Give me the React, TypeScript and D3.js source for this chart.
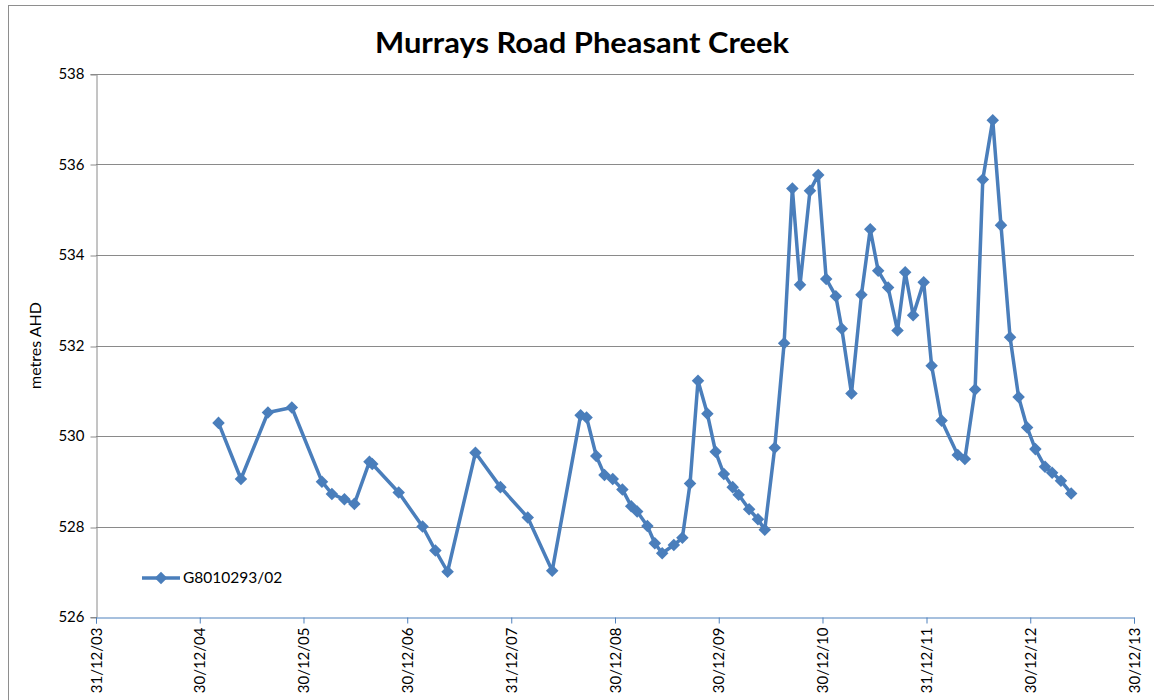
import React, { useEffect, useRef } from 'react';
import * as d3 from 'd3';

const title = 'Murrays Road Pheasant Creek';
const seriesName = 'G8010293/02';
const yLabel = 'metres AHD';

const dates = [
  '2005-03-06', '2005-05-24', '2005-08-27', '2005-11-19', '2006-03-05', '2006-04-09',
  '2006-05-23', '2006-06-27', '2006-08-19', '2006-08-29', '2006-11-30', '2007-02-22',
  '2007-04-08', '2007-05-21', '2007-08-27', '2007-11-23', '2008-02-27', '2008-05-23',
  '2008-08-31', '2008-09-21', '2008-10-25', '2008-11-23', '2008-12-22', '2009-01-25',
  '2009-02-25', '2009-03-18', '2009-04-23', '2009-05-19', '2009-06-14', '2009-07-25',
  '2009-08-24', '2009-09-20', '2009-10-18', '2009-11-20', '2009-12-19', '2010-01-17',
  '2010-02-17', '2010-03-10', '2010-04-16', '2010-05-17', '2010-06-10', '2010-07-15',
  '2010-08-17', '2010-09-15', '2010-10-12', '2010-11-16', '2010-12-15', '2011-01-12',
  '2011-02-15', '2011-03-08', '2011-04-11', '2011-05-16', '2011-06-16', '2011-07-14',
  '2011-08-18', '2011-09-20', '2011-10-17', '2011-11-14', '2011-12-21', '2012-01-18',
  '2012-02-22', '2012-04-19', '2012-05-14', '2012-06-19', '2012-07-16', '2012-08-20',
  '2012-09-18', '2012-10-20', '2012-11-19', '2012-12-19', '2013-01-17', '2013-02-20',
  '2013-03-17', '2013-04-17', '2013-05-23',
];

const levels = [
  530.29, 529.05, 530.52, 530.63, 528.99, 528.72,
  528.60, 528.50, 529.43, 529.38, 528.75, 528.00,
  527.47, 527.00, 529.63, 528.87, 528.20, 527.02,
  530.46, 530.41, 529.56, 529.14, 529.05, 528.82,
  528.45, 528.33, 528.01, 527.63, 527.41, 527.59,
  527.75, 528.95, 531.22, 530.49, 529.65, 529.16,
  528.87, 528.70, 528.38, 528.16, 527.93, 529.74,
  532.05, 535.47, 533.34, 535.42, 535.77, 533.47,
  533.09, 532.37, 530.94, 533.12, 534.57, 533.65,
  533.28, 532.33, 533.62, 532.67, 533.40, 531.55,
  530.34, 529.58, 529.49, 531.03, 535.67, 536.98,
  534.66, 532.18, 530.86, 530.19, 529.71, 529.32,
  529.19, 529.01, 528.73,
];

const xTickLabels = [
  '31/12/03', '30/12/04', '30/12/05', '30/12/06', '31/12/07', '30/12/08',
  '30/12/09', '30/12/10', '31/12/11', '30/12/12', '30/12/13',
];

const yTicks = [526, 528, 530, 532, 534, 536, 538];

const parseLabel = d3.timeParse('%d/%m/%y');
const parseDate = d3.timeParse('%Y-%m-%d');

export default function App() {
  const ref = useRef<SVGSVGElement | null>(null);

  useEffect(() => {
    const svgEl = ref.current;
    if (!svgEl) return;
    const svg = d3.select(svgEl);
    svg.selectAll('*').remove();

    const width = 1154;
    const height = 700;
    const margin = { top: 74, right: 20, bottom: 83, left: 96 };
    const innerW = width - margin.left - margin.right;
    const innerH = height - margin.top - margin.bottom;
    const font = 'Lato, "Open Sans", sans-serif';
    const blue = '#4A7EBB';

    const tickDates = xTickLabels.map(l => parseLabel(l) as Date);
    const data = dates.map((d, i) => ({ date: parseDate(d) as Date, value: levels[i] }));

    const x = d3.scaleTime()
      .domain([tickDates[0], tickDates[tickDates.length - 1]])
      .range([0, innerW]);
    const y = d3.scaleLinear().domain([526, 538]).range([innerH, 0]);

    svg.append('rect')
      .attr('x', 8.5).attr('y', 5.5)
      .attr('width', width).attr('height', height)
      .attr('fill', '#fff').attr('stroke', '#8e8e8e');

    svg.append('text')
      .attr('x', 582).attr('y', 53)
      .attr('text-anchor', 'middle')
      .attr('font-family', font)
      .attr('font-size', 29)
      .attr('font-weight', 700)
      .attr('fill', '#000')
      .attr('textLength', 414)
      .attr('lengthAdjust', 'spacingAndGlyphs')
      .text(title);

    const g = svg.append('g').attr('transform', `translate(${margin.left},${margin.top})`);

    // grid
    g.append('g')
      .selectAll('line')
      .data(yTicks.filter(t => t !== 526))
      .enter()
      .append('line')
      .attr('x1', 0).attr('x2', innerW)
      .attr('y1', d => Math.round(y(d)) + 0.5).attr('y2', d => Math.round(y(d)) + 0.5)
      .attr('stroke', '#8a8a8a').attr('stroke-width', 1);

    // y axis
    const yAxis = g.append('g')
      .attr('transform', 'translate(0.5,0)')
      .call(d3.axisLeft(y).tickValues(yTicks).tickSize(6).tickPadding(6).tickFormat(d3.format('d')));
    yAxis.select('.domain').attr('stroke', '#8a8a8a');
    yAxis.selectAll('.tick line').attr('stroke', '#8a8a8a')
      .attr('transform', (d: any) => `translate(0,${Math.round(y(d)) + 0.5 - y(d)})`);
    yAxis.selectAll('.tick text')
      .attr('font-family', font).attr('font-size', 15).attr('fill', '#000');

    // x axis
    const xAxis = g.append('g')
      .attr('transform', `translate(0,${Math.round(innerH) + 0.5})`)
      .call(d3.axisBottom(x).tickValues(tickDates).tickSize(6).tickFormat((_, i) => xTickLabels[i]));
    xAxis.select('.domain').attr('stroke', '#4F81BD');
    xAxis.selectAll('.tick line').attr('stroke', '#4F81BD');
    xAxis.selectAll('.tick text')
      .attr('font-family', font).attr('font-size', 15).attr('fill', '#000')
      .attr('text-anchor', 'end')
      .attr('transform', 'rotate(-90)')
      .attr('x', -10).attr('y', 0).attr('dy', '0.35em');

    svg.append('text')
      .attr('transform', `translate(41,${margin.top + innerH / 2}) rotate(-90)`)
      .attr('text-anchor', 'middle')
      .attr('font-family', font).attr('font-size', 16).attr('fill', '#000')
      .text(yLabel);

    const line = d3.line<{ date: Date; value: number }>()
      .x(d => x(d.date))
      .y(d => y(d.value));

    g.append('path')
      .datum(data)
      .attr('fill', 'none')
      .attr('stroke', blue)
      .attr('stroke-width', 3.5)
      .attr('stroke-linejoin', 'round')
      .attr('d', line);

    const diamond = d3.symbol().type(d3.symbolDiamond2).size(100);
    g.append('g')
      .selectAll('path')
      .data(data)
      .enter()
      .append('path')
      .attr('transform', d => `translate(${x(d.date)},${y(d.value)})`)
      .attr('d', diamond)
      .attr('fill', blue);

    // legend
    const lg = svg.append('g').attr('transform', 'translate(142,578)');
    lg.append('line').attr('x1', 0).attr('x2', 38).attr('y1', 0).attr('y2', 0)
      .attr('stroke', blue).attr('stroke-width', 3.5);
    lg.append('path').attr('transform', 'translate(19,0)').attr('d', diamond).attr('fill', blue);
    lg.append('text').attr('x', 41).attr('y', 0).attr('dy', '0.35em')
      .attr('font-family', font).attr('font-size', 15.5).attr('fill', '#000')
      .text(seriesName);
  }, []);

  return (
    <svg ref={ref} width={1154} height={700}
      style={{ position: 'absolute', left: 0, top: 0, display: 'block' }} />
  );
}
